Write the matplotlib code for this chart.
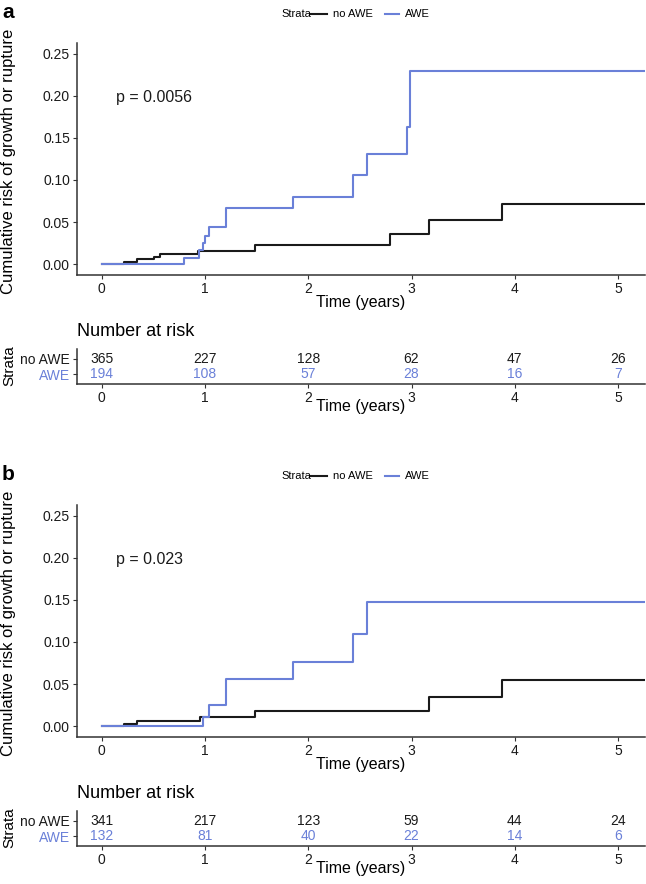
import matplotlib.pyplot as plt
from matplotlib.lines import Line2D

# data (cumulative risk step curves)
a_noawe_t = [0, 0.22, 0.345, 0.506, 0.565, 0.935, 1.484, 2.79, 3.17, 3.88, 5.26]
a_noawe_y = [0, 0.0028, 0.006, 0.0087, 0.0123, 0.0159, 0.0222, 0.0357, 0.052, 0.0714, 0.0714]
a_awe_t = [0, 0.797, 0.945, 0.977, 1.003, 1.042, 1.203, 1.855, 2.429, 2.571, 2.955, 2.985, 5.26]
a_awe_y = [0, 0.0071, 0.0167, 0.0246, 0.0333, 0.0437, 0.0663, 0.0802, 0.1056, 0.1306, 0.1623, 0.229, 0.229]

b_noawe_t = [0, 0.22, 0.345, 0.952, 1.484, 3.17, 3.88, 5.26]
b_noawe_y = [0, 0.0028, 0.0067, 0.0103, 0.0179, 0.0345, 0.0552, 0.0552]
b_awe_t = [0, 0.977, 1.039, 1.203, 1.855, 2.429, 2.571, 5.26]
b_awe_y = [0, 0.0111, 0.0246, 0.0563, 0.0762, 0.1095, 0.1469, 0.1469]

risk_times = [0, 1, 2, 3, 4, 5]
a_risk_noawe = [365, 227, 128, 62, 47, 26]
a_risk_awe = [194, 108, 57, 28, 16, 7]
b_risk_noawe = [341, 217, 123, 59, 44, 24]
b_risk_awe = [132, 81, 40, 22, 14, 6]

strata = ['no AWE', 'AWE']
colors = ['#1a1a1a', '#6a80d8']

plt.rcParams['font.family'] = ['Liberation Sans', 'DejaVu Sans']

W, H = 646, 884
fig = plt.figure(figsize=(W / 100, H / 100), dpi=100)


def box(l, t, r, b):
    return [l / W, 1 - b / H, (r - l) / W, (b - t) / H]


def ftext(x, y, s, **kw):
    fig.text(x / W, 1 - y / H, s, **kw)


def style(ax):
    for s in ['top', 'right']:
        ax.spines[s].set_visible(False)
    for s in ['left', 'bottom']:
        ax.spines[s].set_color('#333333')
        ax.spines[s].set_linewidth(1.1)
    ax.tick_params(direction='out', length=2.6, width=0.8, color='#333333',
                   labelsize=10, labelcolor='#1a1a1a', pad=2.5)


def panel(dy, letter, pval, curves, risk):
    # main curve axes
    ax = fig.add_axes(box(77, 43 + dy, 645, 274.7 + dy))
    style(ax)
    for (t, y), c in zip(curves, colors):
        ax.step(t, y, where='post', color=c, lw=1.5)
    ax.set_xlim(-0.239, 5.26)
    ax.set_ylim(-0.0125, 0.2625)
    ax.set_xticks(risk_times)
    ax.set_yticks([0, 0.05, 0.10, 0.15, 0.20, 0.25])
    ax.set_yticklabels(['0.00', '0.05', '0.10', '0.15', '0.20', '0.25'])
    ax.text(0.14, 0.198, pval, fontsize=11.5, va='center', ha='left', color='#1a1a1a')

    ftext(361, 302 + dy, 'Time (years)', fontsize=11.5, ha='center', va='center')
    ftext(9, 161 + dy, 'Cumulative risk of growth or rupture', fontsize=12,
          rotation=90, ha='center', va='center')
    ftext(2, 12 + dy, letter, fontsize=15, fontweight='bold', ha='left', va='center')

    # legend
    ftext(281, 14 + dy, 'Strata', fontsize=8, ha='left', va='center')
    fig.add_artist(Line2D([311 / W, 327 / W], [1 - (14 + dy) / H] * 2,
                          color=colors[0], lw=1.5, transform=fig.transFigure))
    ftext(333, 14 + dy, strata[0], fontsize=8, ha='left', va='center')
    fig.add_artist(Line2D([385 / W, 399 / W], [1 - (14 + dy) / H] * 2,
                          color=colors[1], lw=1.5, transform=fig.transFigure))
    ftext(405, 14 + dy, strata[1], fontsize=8, ha='left', va='center')

    # risk table
    tb = fig.add_axes(box(77, 349 + dy, 645, 384 + dy))
    style(tb)
    tb.set_xlim(-0.239, 5.26)
    tb.set_ylim(0.4, 2.6)
    tb.set_xticks(risk_times)
    tb.set_yticks([2, 1])
    tb.set_yticklabels(strata)
    for lab, c in zip(tb.get_yticklabels(), colors):
        lab.set_color(c)
    for row, vals, c in zip([2, 1], risk, colors):
        for x, v in zip(risk_times, vals):
            tb.text(x, row, str(v), ha='center', va='center', fontsize=10, color=c)
    ftext(77, 331 + dy, 'Number at risk', fontsize=13, ha='left', va='center')
    ftext(361, 407 + dy, 'Time (years)', fontsize=11.5, ha='center', va='center')
    ftext(9, 366 + dy, 'Strata', fontsize=11, rotation=90, ha='center', va='center')


panel(0, 'a', 'p = 0.0056',
      [(a_noawe_t, a_noawe_y), (a_awe_t, a_awe_y)],
      [a_risk_noawe, a_risk_awe])
panel(462, 'b', 'p = 0.023',
      [(b_noawe_t, b_noawe_y), (b_awe_t, b_awe_y)],
      [b_risk_noawe, b_risk_awe])

fig.savefig('out.png', dpi=100)
